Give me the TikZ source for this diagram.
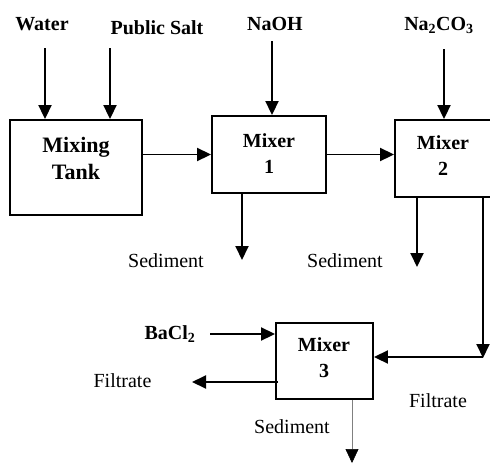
\documentclass[tikz,border=0pt]{standalone}
\usepackage{fontspec}
\setmainfont{Liberation Serif}
\usetikzlibrary{arrows.meta}
\begin{document}
\begin{tikzpicture}[x=1pt,y=-1pt,
  box/.style={draw,line width=1.9pt,minimum width=#1,inner sep=0pt},
  flow/.style={line width=1.9pt,-{Triangle[length=14pt,width=13pt]}},
  thinflow/.style={line width=0.6pt,draw=gray,-{Triangle[length=14pt,width=13pt,color=black]}},
  bl/.style={font=\fontsize{20}{26}\selectfont\bfseries,align=center,inner sep=0pt},
  rl/.style={font=\fontsize{20}{26}\selectfont,align=center,inner sep=0pt}]
\useasboundingbox (0,0) rectangle (490,464);
\begin{scope}
\clip (0,0) rectangle (490,464);
% boxes
\node[box=132pt,minimum height=95pt] (mt) at (76,167.5) {};
\node[box=114pt,minimum height=77pt] (m1) at (269,154.5) {};
\node[box=115pt,minimum height=77pt] (m2) at (452.5,158.5) {};
\node[box=97pt,minimum height=76pt] (m3) at (324.5,361) {};
\end{scope}
% box texts
\node[bl,font=\fontsize{22}{27}\selectfont\bfseries] (mtt) at (76,158) {Mixing\\Tank};
\node[bl] (m1t) at (269,154) {Mixer\\1};
\node[bl] (m2t) at (443,156) {Mixer\\2};
\node[bl] (m3t) at (324,358) {Mixer\\3};
% input labels
\node[bl] (water) at (42,24) {Water};
\node[bl] (salt) at (157,28) {Public Salt};
\node[bl] (naoh) at (275,24) {NaOH};
\node[bl] (na2co3) at (439,25) {Na\textsubscript{2}CO\textsubscript{3}};
\node[bl] (bacl2) at (170,334) {BaCl\textsubscript{2}};
% output labels
\node[rl] (sed1) at (166,261) {Sediment};
\node[rl] (sed2) at (345,261) {Sediment};
\node[rl] (sed3) at (292,427) {Sediment};
\node[rl] (filt1) at (122.5,381) {Filtrate};
\node[rl] (filt2) at (438,401) {Filtrate};
% coordinates
\coordinate (w0) at (45,48);
\coordinate (s0) at (110,48);
\coordinate (n0) at (272,41);
\coordinate (c0) at (444,49);
\coordinate (b0) at (210,334);
\coordinate (d1) at (242,260);
\coordinate (d2) at (417,267);
\coordinate (corner) at (483,358);
\coordinate (f1) at (192,382);
\coordinate (d3) at (352,463);
% connectors
\draw[flow] (w0) -- (w0 |- mt.north);
\draw[flow] (s0) -- (s0 |- mt.north);
\draw[flow] (mt.east |- m1.west) -- (m1.west);
\draw[flow] (n0) -- (n0 |- m1.north);
\draw[flow] (d1 |- m1.south) -- (d1);
\draw[flow] (m1.east) -- (m1.east -| m2.west);
\draw[flow] (c0) -- (c0 |- m2.north);
\draw[flow] (d2 |- m2.south) -- (d2);
\draw[flow] (corner |- m2.south) -- (corner);
\draw[flow] ([yshift=1pt]corner) -- ([yshift=1pt]corner -| m3.east);
\draw[flow] (b0) -- (b0 -| m3.west);
\draw[flow] ([xshift=3pt]m3.west |- f1) -- (f1);
\draw[thinflow] (d3 |- m3.south) -- (d3);
\end{tikzpicture}
\end{document}
